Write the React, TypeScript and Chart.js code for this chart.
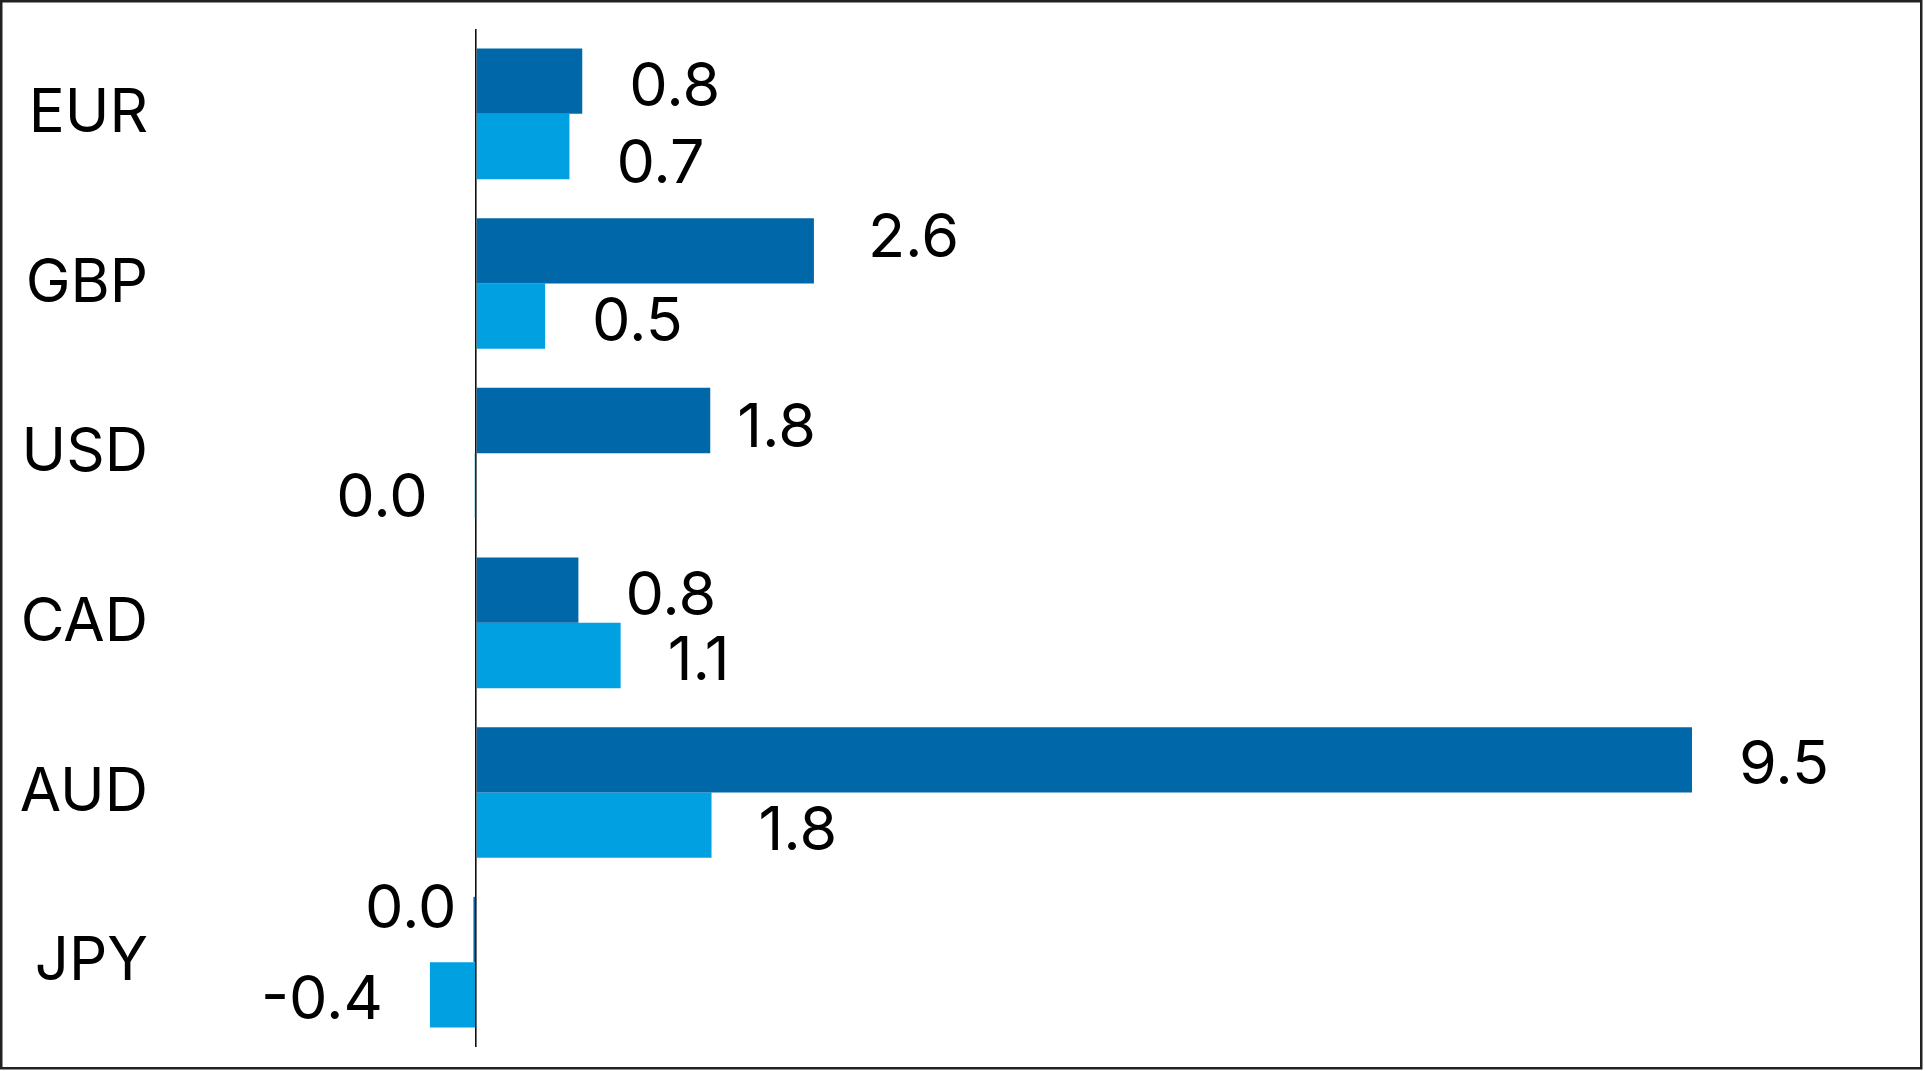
import React, { useEffect, useRef } from "react";
import { Chart, registerables } from "chart.js";

Chart.register(...registerables);

const categories = ["EUR", "GBP", "USD", "CAD", "AUD", "JPY"];
const seriesNames = ["Series A", "Series B"];
const seriesDark = [0.83, 2.64, 1.83, 0.8, 9.5, -0.02];
const seriesLight = [0.73, 0.54, -0.01, 1.13, 1.84, -0.36];

const W = 1925;
const H = 1071;
const FONT = "Inter";
const DARK = "#0068A9";
const LIGHT = "#00A0E1";

// small label placement adjustments (label-repel look of the original)
const LABEL_NUDGE: Record<string, [number, number]> = {
  "0:1": [7, -18],
  "0:2": [-20, 2],
  "0:5": [30, -26],
  "1:0": [0, 12],
  "1:2": [0, 7],
};

function fmt(v: number): string {
  if (Math.abs(v) < 0.05) return "0.0";
  return v.toFixed(1);
}

const valueLabels = {
  id: "valueLabels",
  afterDatasetsDraw(chart: any) {
    const ctx = chart.ctx;
    ctx.save();
    ctx.font = `400 61px ${FONT}`;
    ctx.fillStyle = "#000";
    ctx.textBaseline = "middle";
    chart.data.datasets.forEach((ds: any, di: number) => {
      const meta = chart.getDatasetMeta(di);
      meta.data.forEach((bar: any, i: number) => {
        const v = ds.data[i] as number;
        const p = bar.getProps(["x", "y", "base"], true);
        const text = fmt(v);
        const n = LABEL_NUDGE[`${di}:${i}`] || [0, 0];
        const ty = p.y + 6 + n[1];
        if (v > 0) {
          ctx.textAlign = "left";
          ctx.fillText(text, p.x + 47 + n[0], ty);
        } else {
          ctx.textAlign = "right";
          ctx.fillText(text, Math.min(p.x, p.base) - 47 + n[0], ty);
        }
      });
    });
    ctx.restore();
  },
};

const frame = {
  id: "frame",
  afterDraw(chart: any) {
    const ctx = chart.ctx;
    ctx.save();
    ctx.strokeStyle = "#222";
    ctx.lineWidth = 2.5;
    ctx.strokeRect(1.25, 1.25, 1920, 1067);
    ctx.restore();
  },
};

export default function App() {
  const ref = useRef<HTMLCanvasElement | null>(null);

  useEffect(() => {
    if (!ref.current) return;
    document.body.style.margin = "0";
    const chart = new Chart(ref.current, {
      type: "bar",
      data: {
        labels: categories,
        datasets: [
          {
            label: seriesNames[0],
            data: seriesDark,
            backgroundColor: DARK,
            borderWidth: 0,
            categoryPercentage: 0.77,
            barPercentage: 1.0,
          },
          {
            label: seriesNames[1],
            data: seriesLight,
            backgroundColor: LIGHT,
            borderWidth: 0,
            categoryPercentage: 0.77,
            barPercentage: 1.0,
          },
        ],
      },
      options: {
        indexAxis: "y",
        animation: false,
        responsive: false,
        devicePixelRatio: 1,
        layout: { padding: { left: 0, right: 41, top: 29, bottom: 24 } },
        plugins: {
          legend: { display: false },
          tooltip: { enabled: false },
        },
        scales: {
          x: {
            min: -1,
            max: 11,
            ticks: { display: false, stepSize: 1 },
            border: { display: false },
            grid: {
              drawTicks: false,
              lineWidth: 1.6,
              color: (c: any) => (c.tick && c.tick.value === 0 ? "#111" : "rgba(0,0,0,0)"),
            },
            afterFit: (scale: any) => {
              scale.height = 0;
              scale.paddingLeft = 0;
              scale.paddingRight = 0;
            },
          },
          y: {
            grid: { display: false, drawTicks: false },
            border: { display: false },
            ticks: {
              padding: 200,
              color: "#000",
              font: { family: FONT, size: 60, weight: "400" },
            },
            afterFit: (scale: any) => {
              scale.width = 348;
              scale.paddingTop = 0;
              scale.paddingBottom = 0;
            },
          },
        },
      },
      plugins: [valueLabels, frame],
    });
    return () => chart.destroy();
  }, []);

  return (
    <div style={{ position: "absolute", left: 0, top: 0, width: W, height: H, background: "#fff" }}>
      <canvas ref={ref} width={W} height={H} style={{ display: "block", width: W, height: H }} />
    </div>
  );
}
